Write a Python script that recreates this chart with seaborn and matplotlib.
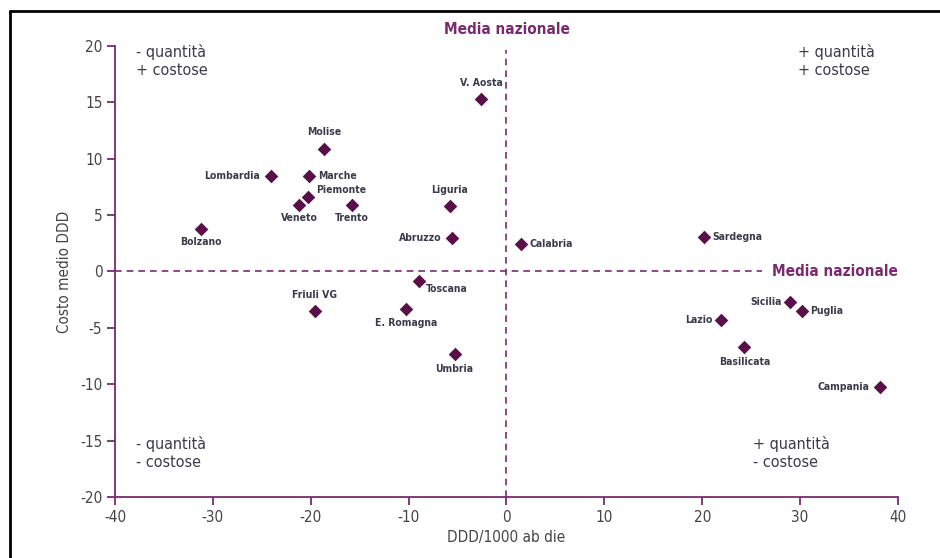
import matplotlib
matplotlib.use("Agg")
import matplotlib.pyplot as plt
import matplotlib.lines as mlines
import seaborn as sns
import pandas as pd

regions = ["V. Aosta", "Molise", "Lombardia", "Marche", "Piemonte", "Veneto",
           "Trento", "Bolzano", "Liguria", "Abruzzo", "Calabria", "Sardegna",
           "Toscana", "Friuli VG", "E. Romagna", "Umbria", "Sicilia", "Puglia",
           "Lazio", "Basilicata", "Campania"]
ddd = [-2.6, -18.6, -24.1, -20.2, -20.3, -21.2, -15.8, -31.2, -5.8, -5.6, 1.5,
       20.2, -8.9, -19.6, -10.3, -5.3, 29.0, 30.2, 21.9, 24.3, 38.2]
costo = [15.3, 10.9, 8.5, 8.5, 6.6, 5.9, 5.9, 3.8, 5.8, 3.0, 2.4, 3.1,
         -0.8, -3.5, -3.3, -7.3, -2.7, -3.5, -4.3, -6.7, -10.2]

x_ticks = [-40, -30, -20, -10, 0, 10, 20, 30, 40]
y_ticks = [-20, -15, -10, -5, 0, 5, 10, 15, 20]

# label placement: (dx, dy in points, ha, va)
placement = {
    "V. Aosta": (0, 8, "center", "bottom"),
    "Molise": (0, 8, "center", "bottom"),
    "Lombardia": (-8, 0, "right", "center"),
    "Marche": (7, 0, "left", "center"),
    "Piemonte": (6, 5, "left", "center"),
    "Veneto": (0, -6, "center", "top"),
    "Trento": (0, -6, "center", "top"),
    "Bolzano": (0, -6, "center", "top"),
    "Liguria": (0, 8, "center", "bottom"),
    "Abruzzo": (-7, 0, "right", "center"),
    "Calabria": (6, 0, "left", "center"),
    "Sardegna": (6, 0, "left", "center"),
    "Toscana": (5, -6, "left", "center"),
    "Friuli VG": (0, 8, "center", "bottom"),
    "E. Romagna": (0, -7, "center", "top"),
    "Umbria": (0, -7, "center", "top"),
    "Sicilia": (-6, 0, "right", "center"),
    "Puglia": (6, 0, "left", "center"),
    "Lazio": (-6, 0, "right", "center"),
    "Basilicata": (0, -7, "center", "top"),
    "Campania": (-8, 0, "right", "center"),
}

df = pd.DataFrame({"region": regions, "ddd": ddd, "costo": costo})

sns.set_style("ticks")
plt.rcParams["font.family"] = ["DejaVu Sans"]
plt.rcParams["font.stretch"] = "condensed"

purple = "#7a2a6e"
marker_c = "#5a0f48"
text_c = "#444444"
label_c = "#3a3a4a"

fig = plt.figure(figsize=(9.4, 5.58), dpi=100)
ax = fig.add_axes([0.1223, 0.1093, 0.833, 0.8083])

sns.scatterplot(data=df, x="ddd", y="costo", marker="D", s=48, color=marker_c,
                edgecolor=marker_c, linewidth=0, ax=ax, zorder=5)

ax.set_xlim(-40, 40)
ax.set_ylim(-20, 20)
ax.set_xticks(x_ticks)
ax.set_yticks(y_ticks)
ax.set_xticklabels([str(v) for v in x_ticks])
ax.set_yticklabels([str(v) for v in y_ticks])

for s in ["top", "right"]:
    ax.spines[s].set_visible(False)
for s in ["left", "bottom"]:
    ax.spines[s].set_color(purple)
    ax.spines[s].set_linewidth(1.3)
ax.tick_params(axis="both", colors=purple, length=6, width=1.3,
               labelcolor=text_c, labelsize=11, pad=3)

# mean lines
ax.plot([0, 0], [-20, 19.6], ls=(0, (4, 3)), color=purple, lw=1.2, zorder=2)
ax.plot([-40, 26.1], [0, 0], ls=(0, (4, 3)), color=purple, lw=1.2, zorder=2)
ax.text(0, 20.8, "Media nazionale", ha="center", va="bottom", color=purple,
        fontsize=11, fontweight="bold")
ax.text(40, 0, "Media nazionale", ha="right", va="center", color=purple,
        fontsize=11, fontweight="bold")

for r, xv, yv in zip(regions, ddd, costo):
    dx, dy, ha, va = placement[r]
    ax.annotate(r, (xv, yv), xytext=(dx, dy), textcoords="offset points",
                ha=ha, va=va, fontsize=7.5, fontweight="bold", color=label_c)

quad_kw = dict(fontsize=11.5, color=label_c, linespacing=1.25, va="top", ha="left")
ax.text(-37.9, 20.2, "- quantità\n+ costose", **quad_kw)
ax.text(29.8, 20.2, "+ quantità\n+ costose", **quad_kw)
ax.text(-37.8, -14.6, "- quantità\n- costose", **quad_kw)
ax.text(25.2, -14.6, "+ quantità\n- costose", **quad_kw)

ax.set_xlabel("DDD/1000 ab die", fontsize=11, color=text_c, labelpad=4)
ax.set_ylabel("Costo medio DDD", fontsize=11, color=text_c, labelpad=6)

# partial frame (top and left)
fig.add_artist(mlines.Line2D([10 / 940, 1.0], [1 - 11 / 558, 1 - 11 / 558],
                             transform=fig.transFigure, color="black", lw=2))
fig.add_artist(mlines.Line2D([10 / 940, 10 / 940], [0.0, 1 - 11 / 558],
                             transform=fig.transFigure, color="black", lw=2))

fig.savefig("out.png", dpi=100)
